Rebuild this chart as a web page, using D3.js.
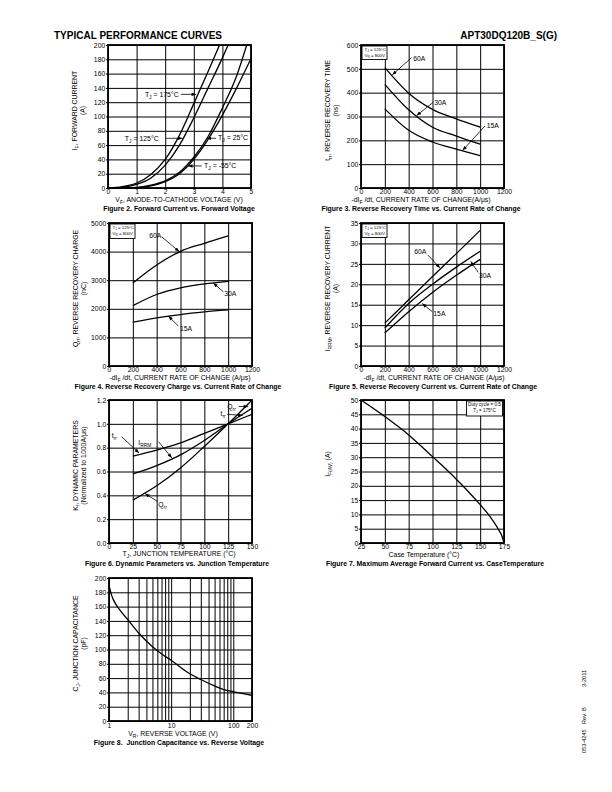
<!DOCTYPE html>
<html><head><meta charset="utf-8">
<script src="https://cdn.jsdelivr.net/npm/d3@7"></script>
<style>body{margin:0;background:#fff}svg{display:block}</style>
</head><body><svg id="c" width="612" height="792"></svg>
<script>
// ---------- DATA ----------
// Figure 2: forward current vs forward voltage  [V, A]
const fig2Tj175 = [[0,0],[0.5,2],[1,7],[1.5,19],[2,40],[2.5,74],[3,118],[3.5,163],[3.9,200]];
const fig2Tj125 = [[0,0],[0.5,1],[1,5],[1.5,14],[2,32],[2.5,60],[3,98],[3.5,140],[4,182],[4.2,200]];
const fig2Tj25  = [[0,0],[1,1],[1.5,4],[2,10],[2.5,22],[3,43],[3.5,72],[4,112],[4.5,157],[4.85,200]];
const fig2TjM55 = [[0,0],[1,0.5],[1.5,3],[2,9],[2.5,20],[3,40],[3.5,68],[4,102],[4.5,140],[5,181]];
const fig2XTicks = [0,1,2,3,4,5];
const fig2YTicks = [0,20,40,60,80,100,120,140,160,180,200];

// Figures 3-5: vs current rate of change
const rateValues = [200,400,600,800,1000];
const rateTicks = [0,200,400,600,800,1000,1200];
const fig3Trr60A = [505,398,330,290,255];
const fig3Trr30A = [435,328,255,218,184];
const fig3Trr15A = [332,242,193,163,136];
const fig3YTicks = [0,100,200,300,400,500,600];
const fig4Qrr60A = [2900,3530,4010,4290,4550];
const fig4Qrr30A = [2110,2500,2730,2870,2960];
const fig4Qrr15A = [1530,1680,1800,1890,1960];
const fig4YTicks = [0,1000,2000,3000,4000,5000];
const fig5Irrm60A = [10.5,16.2,21.9,27.5,33.2];
const fig5Irrm30A = [9.3,15.3,20.0,24.2,28.1];
const fig5Irrm15A = [8.1,13.3,18.0,22.2,26.1];
const fig5YTicks = [0,5,10,15,20,25,30,35];

// Figure 6: dynamic parameters vs junction temperature
const fig6Temp = [25,50,75,100,125,150];
const fig6Trr  = [0.73,0.78,0.84,0.92,1.0,1.08];
const fig6Irrm = [0.58,0.65,0.74,0.86,1.0,1.13];
const fig6Qrr  = [0.36,0.48,0.63,0.81,1.0,1.2];
const fig6XTicks = [0,25,50,75,100,125,150];
const fig6YTicks = [0,0.2,0.4,0.6,0.8,1.0,1.2];

// Figure 7: max average forward current vs case temperature
const fig7Tc   = [25,50,75,100,125,150,160,170,173,175];
const fig7IfAv = [50,44.2,37.8,30.2,22.3,13.4,9.4,4.3,2.3,0];
const fig7XTicks = [25,50,75,100,125,150,175];
const fig7YTicks = [0,5,10,15,20,25,30,35,40,45,50];

// Figure 8: junction capacitance vs reverse voltage
const fig8Vr = [1,1.1,1.2,1.5,2,3,5,7,10,20,30,50,70,100,150,200];
const fig8Cj = [190,176,168,155,142,123,104,94,85,66,58,49,44,41,38,36];
const fig8XTicks = [1,10,100,200];
const fig8XGrid = [1,2,3,4,5,6,7,8,9,10,20,30,40,50,60,70,80,90,100,200];
const fig8YTicks = [0,20,40,60,80,100,120,140,160,180,200];

// annotations (data units)
const fig2Notes = [
  {label:"T_{J} = 175°C", at:[1.29,127], from:[2.55,131], to:[3.08,131]},
  {label:"T_{J} = 125°C", at:[0.59,65.7], from:[2.03,69.5], to:[2.6,69.5]},
  {label:"T_{J} = 25°C",  at:[3.85,67],  from:[3.78,69.5], to:[3.45,69.5]},
  {label:"T_{J} = -55°C", at:[3.36,27.6], from:[3.28,30.8], to:[2.8,30.8]}
];
const fig3Notes = [
  {label:"60A", at:[439,533], from:[425,547], to:[263,475]},
  {label:"30A", at:[615,348], from:[607,360], to:[467,304]},
  {label:"15A", at:[1055,250], from:[1040,260], to:[853,158]}
];
const fig4Notes = [
  {label:"60A", at:[338,4465], from:[442,4521], to:[590,3995]},
  {label:"30A", at:[967,2448], from:[959,2598], to:[875,2900]},
  {label:"15A", at:[596,1234], from:[582,1399], to:[498,1745]}
];
const fig5Notes = [
  {label:"60A", at:[447,27.4], from:[560,27.2], to:[663,24.0]},
  {label:"30A", at:[990,21.5], from:[984,22.9], to:[921,25.6]},
  {label:"15A", at:[607,12.3], from:[598,13.3], to:[514,15.3]}
];
const fig6Notes = [
  {label:"t_{rr}", at:[2.8,0.878], from:[13.3,0.892], to:[31.5,0.755]},
  {label:"I_{RRM}", at:[30.7,0.823], from:[52,0.85], to:[65.8,0.715]},
  {label:"Q_{rr}", at:[51.7,0.305], from:[51.1,0.347], to:[37.8,0.415]},
  {label:"Q_{rr}", at:[124,1.125], from:[136,1.145], to:[146,1.145]},
  {label:"t_{rr}", at:[117,1.066], from:[124,1.08], to:[140,1.07]}
];

// ---------- DRAWING ----------
const FONT = '"Liberation Sans", Arial, Helvetica, sans-serif';
const svg = d3.select('#c');
svg.append('rect').attr('width',612).attr('height',792).attr('fill','#fff');
const defs = svg.append('defs');
defs.append('marker').attr('id','ah').attr('viewBox','0 0 10 8').attr('refX',10).attr('refY',4)
  .attr('markerWidth',5).attr('markerHeight',3.6).attr('markerUnits','userSpaceOnUse').attr('orient','auto')
  .append('path').attr('d','M0,0L10,4L0,8Z').attr('fill','#000');

function rich(t, str, size) {
  const parts = str.split(/(_\{[^}]*\})/).filter(s => s.length);
  let down = false;
  parts.forEach(p => {
    if (p.startsWith('_{')) {
      t.append('tspan').attr('dy', (size*0.28).toFixed(2)).attr('font-size', (size*0.72).toFixed(2)).text(p.slice(2,-1));
      down = true;
    } else {
      const s = t.append('tspan').text(p);
      if (down) { s.attr('dy', (-size*0.28).toFixed(2)); down = false; }
    }
  });
  return t;
}
function label(g, str, x, y, size, opts={}) {
  const t = g.append('text').attr('x',x).attr('y',y).attr('font-size',size).attr('font-family',FONT)
    .attr('fill','#000').attr('text-anchor', opts.anchor||'start');
  if (opts.bold) t.attr('font-weight','bold');
  if (opts.rotate) t.attr('transform',`rotate(-90,${x},${y})`);
  rich(t, str, size);
  return t;
}

let clipN = 0;
function chart(c) {
  const g = svg.append('g');
  const xs = (c.log ? d3.scaleLog() : d3.scaleLinear()).domain(c.xDomain).range([c.left, c.right]);
  const ys = d3.scaleLinear().domain(c.yDomain).range([c.bottom, c.top]);
  const w = c.right - c.left, h = c.bottom - c.top;
  const txt = s => s.attr('font-family', FONT).attr('font-size', 6.8);
  g.append('g').attr('transform',`translate(0,${c.bottom})`)
    .call(d3.axisBottom(xs).tickValues(c.xGrid || c.xTicks).tickSize(-h).tickFormat(''))
    .call(s => { s.select('.domain').remove(); s.selectAll('line').attr('stroke','#000').attr('stroke-width',1); });
  g.append('g').attr('transform',`translate(${c.left},0)`)
    .call(d3.axisLeft(ys).tickValues(c.yTicks).tickSize(-w).tickFormat(''))
    .call(s => { s.select('.domain').remove(); s.selectAll('line').attr('stroke','#000').attr('stroke-width',1); });
  g.append('rect').attr('x',c.left).attr('y',c.top).attr('width',w).attr('height',h)
    .attr('fill','none').attr('stroke','#000').attr('stroke-width',1.8);
  g.append('g').attr('transform',`translate(${c.left},0)`)
    .call(d3.axisLeft(ys).tickValues(c.yTicks).tickSize(2).tickPadding(0.8).tickFormat(c.yFmt || d3.format('d')))
    .call(s => { s.select('.domain').remove(); txt(s); s.selectAll('line').attr('stroke','#000').attr('stroke-width',1); });
  g.append('g').attr('transform',`translate(0,${c.bottom})`)
    .call(d3.axisBottom(xs).tickValues(c.xTicks).tickSize(0).tickPadding(c.xPad || 1.3).tickFormat(d3.format('d')))
    .call(s => { s.select('.domain').remove(); txt(s); });
  // titles
  const cy = (c.top + c.bottom)/2 + (c.yTitleShift || -6);
  label(g, c.yTitle[0], c.left - 31, cy, 6.9, {anchor:'middle', rotate:true});
  if (c.yTitle[1]) label(g, c.yTitle[1], c.left - 23.5, cy, 6.9, {anchor:'middle', rotate:true});
  label(g, c.xTitle, c.xTitleX, c.bottom + (c.xTitleDy || 14), 6.9, {anchor:'middle'});
  label(g, c.caption, c.captionX, c.bottom + (c.captionDy || 22.5), 6.9, {anchor:'middle', bold:true});
  const id = 'clip' + (clipN++);
  defs.append('clipPath').attr('id', id).append('rect').attr('x',c.left).attr('y',c.top).attr('width',w).attr('height',h);
  const plot = g.append('g').attr('clip-path', `url(#${id})`);
  return {g, plot, xs, ys, c};
}
const lineGen = ch => d3.line().x(d => ch.xs(d[0])).y(d => ch.ys(d[1])).curve(d3.curveMonotoneX);
function curve(ch, pts) {
  ch.plot.append('path').datum(pts).attr('d', lineGen(ch)).attr('fill','none')
    .attr('stroke','#000').attr('stroke-width',1.3).attr('stroke-linejoin','round');
}
function notes(ch, list, size) {
  list.forEach(n => {
    label(ch.g, n.label, ch.xs(n.at[0]), ch.ys(n.at[1]), size);
    ch.g.append('line').attr('x1', ch.xs(n.from[0])).attr('y1', ch.ys(n.from[1]))
      .attr('x2', ch.xs(n.to[0])).attr('y2', ch.ys(n.to[1]))
      .attr('stroke','#000').attr('stroke-width',0.8).attr('marker-end','url(#ah)');
  });
}
function legendBox(ch, lines, w, h, right, fs) {
  const c = ch.c;
  const x = right ? c.right - w - 1.5 : c.left + 1;
  const y = c.top + 1;
  ch.g.append('rect').attr('x',x).attr('y',y).attr('width',w).attr('height',h)
    .attr('fill','#fff').attr('stroke','#000').attr('stroke-width',0.9);
  lines.forEach((l,i) => {
    label(ch.g, l, right ? x + w/2 : x + 2.5, y + 5.2 + i*5.8, fs || 4.4, {anchor: right ? 'middle' : 'start'});
  });
}
const zip = (xsArr, ysArr) => xsArr.map((v,i) => [v, ysArr[i]]);

// header
label(svg, "TYPICAL PERFORMANCE CURVES", 54, 38.6, 10, {bold:true});
label(svg, "APT30DQ120B_S(G)", 557, 38.6, 10, {bold:true, anchor:'end'});

// Figure 2
const c2 = chart({left:108, right:251, top:45, bottom:188, xDomain:[0,5], yDomain:[0,200],
  xTicks:fig2XTicks, yTicks:fig2YTicks,
  yTitle:["I_{F}, FORWARD CURRENT","(A)"], xTitle:"V_{F}, ANODE-TO-CATHODE VOLTAGE (V)", xTitleX:179,
  caption:"Figure 2. Forward Current vs. Forward Voltage", captionX:179});
[fig2Tj175, fig2Tj125, fig2Tj25, fig2TjM55].forEach(s => curve(c2, s));
notes(c2, fig2Notes, 6.9);

// Figure 3
const c3 = chart({left:361, right:504, top:45, bottom:188, xDomain:[0,1200], yDomain:[0,600],
  xTicks:rateTicks, yTicks:fig3YTicks,
  yTitle:["t_{rr}, REVERSE RECOVERY TIME","(ns)"], xTitle:"-dI_{F} /dt, CURRENT RATE OF CHANGE(A/μs)", xTitleX:421,
  caption:"Figure 3. Reverse Recovery Time vs. Current Rate of Change", captionX:421});
[fig3Trr60A, fig3Trr30A, fig3Trr15A].forEach(s => curve(c3, zip(rateValues, s)));
legendBox(c3, ["T_{J} = 125°C","V_{R} = 800V"], 25, 13.5);
notes(c3, fig3Notes, 6.8);

// Figure 4
const c4 = chart({left:109, right:252, top:223, bottom:366, xDomain:[0,1200], yDomain:[0,5000],
  xTicks:rateTicks, yTicks:fig4YTicks,
  yTitle:["Q_{rr}, REVERSE RECOVERY CHARGE","(nC)"], xTitle:"-dI_{F} /dt, CURRENT RATE OF CHANGE (A/μs)", xTitleX:180,
  caption:"Figure 4. Reverse Recovery Charge vs. Current Rate of Change", captionX:178});
[fig4Qrr60A, fig4Qrr30A, fig4Qrr15A].forEach(s => curve(c4, zip(rateValues, s)));
legendBox(c4, ["T_{J} = 125°C","V_{R} = 800V"], 25, 14.5);
notes(c4, fig4Notes, 6.8);

// Figure 5
const c5 = chart({left:361, right:504, top:223, bottom:366, xDomain:[0,1200], yDomain:[0,35],
  xTicks:rateTicks, yTicks:fig5YTicks,
  yTitle:["I_{RRM}, REVERSE RECOVERY CURRENT","(A)"], xTitle:"-dI_{F} /dt, CURRENT RATE OF CHANGE (A/μs)", xTitleX:434,
  caption:"Figure 5. Reverse Recovery Current vs. Current Rate of Change", captionX:433});
[fig5Irrm60A, fig5Irrm30A, fig5Irrm15A].forEach(s => curve(c5, zip(rateValues, s)));
legendBox(c5, ["T_{J} = 125°C","V_{R} = 800V"], 25, 13.5);
notes(c5, fig5Notes, 6.8);

// Figure 6
const c6 = chart({left:109, right:252, top:400, bottom:543, xDomain:[0,150], yDomain:[0,1.2],
  xTicks:fig6XTicks, yTicks:fig6YTicks, yFmt:d3.format('.1f'),
  yTitle:["K_{f}, DYNAMIC PARAMETERS","(Normalized to 1000A/μs)"], xTitle:"T_{J}, JUNCTION TEMPERATURE (°C)", xTitleX:179,
  xTitleDy:13, captionDy:23, caption:"Figure 6. Dynamic Parameters vs. Junction Temperature", captionX:177});
[fig6Trr, fig6Irrm, fig6Qrr].forEach(s => curve(c6, zip(fig6Temp, s)));
notes(c6, fig6Notes, 6.8);

// Figure 7
const c7 = chart({left:361, right:504, top:400, bottom:543, xDomain:[25,175], yDomain:[0,50],
  xTicks:fig7XTicks, yTicks:fig7YTicks,
  yTitle:["I_{F(AV)} (A)"], yTitleShift:-7.5, xTitle:"Case Temperature (°C)", xTitleX:424,
  captionDy:23, caption:"Figure 7. Maximum Average Forward Current vs. CaseTemperature", captionX:435});
curve(c7, zip(fig7Tc, fig7IfAv));
legendBox(c7, ["Duty cycle = 0.5","T_{J} = 175°C"], 36, 15, true, 4.6);

// Figure 8
const c8 = chart({left:109, right:252, top:578, bottom:721, log:true, xDomain:[1,200], yDomain:[0,200],
  xTicks:fig8XTicks, xGrid:fig8XGrid, yTicks:fig8YTicks, xPad:2.5,
  yTitle:["C_{J}, JUNCTION CAPACITANCE","(pF)"], xTitle:"V_{R}, REVERSE VOLTAGE (V)", xTitleX:173,
  xTitleDy:15, caption:"Figure 8.\u00a0 Junction Capacitance vs. Reverse Voltage", captionX:179, captionDy:24});
curve(c8, zip(fig8Vr, fig8Cj));

// footer (vertical)
label(svg, "053-4245", 585.5, 753, 5.6, {rotate:true});
label(svg, "Rev\u00a0\u00a0B", 585.5, 724, 5.6, {rotate:true});
label(svg, "3-2011", 585.5, 687, 5.6, {rotate:true});
</script>
</body></html>
